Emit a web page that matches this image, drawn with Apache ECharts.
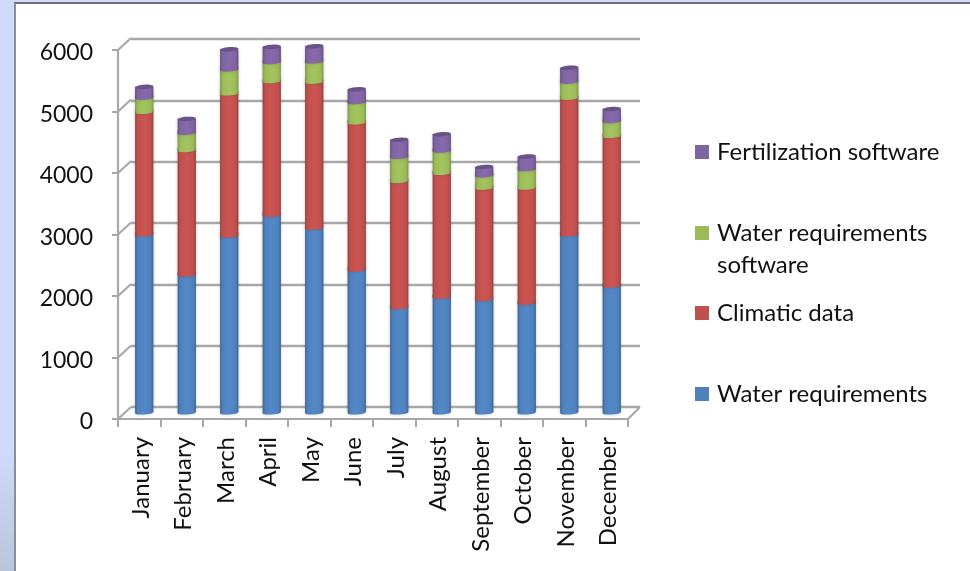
<!DOCTYPE html>
<html>
<head>
<meta charset="utf-8">
<style>
  html, body { margin: 0; padding: 0; width: 970px; height: 571px; overflow: hidden; background: #cfdbfb; }
  #side { position: absolute; left: 0; top: 0; width: 14px; height: 571px;
          background: linear-gradient(to bottom, #cfdbfb 0%, #cfdbfb 78%, #b8c6da 100%); }
  #sheet { position: absolute; left: 14px; top: 2px; width: 956px; height: 569px; box-sizing: border-box;
           background: #fff; border-left: 2px solid #8b8e96; border-top: 2px solid #6e6e72; }
  #chart { position: absolute; left: 0; top: 0; width: 970px; height: 571px; }
</style>
</head>
<body>
<div id="side"></div>
<div id="sheet"></div>
<div id="chart"></div>
<script src="https://cdn.jsdelivr.net/npm/echarts@6/dist/echarts.min.js"></script>
<script>
const months = ['January','February','March','April','May','June','July','August','September','October','November','December'];
const yTicks = [0, 1000, 2000, 3000, 4000, 5000, 6000];
const waterRequirements = [2890,2240,2870,3210,3000,2320,1710,1880,1840,1780,2890,2060];
const climaticData = [1990,2020,2310,2170,2370,2390,2050,2010,1810,1870,2220,2430];
const waterSoftware = [230,280,390,310,330,330,390,360,200,300,260,240];
const fertilizationSoftware = [210,260,360,280,280,240,310,300,170,240,260,230];

const FONT = 'Lato';
const WALL = '#a8a8a8';
const DEPTH_X = 13, DEPTH_Y = 12;
const BAR_RATIO = 0.43;

const stackDefs = [
  { name: 'Water requirements', values: waterRequirements, base: '#4f81bd', light: '#5388c8', dark: '#3a6496' },
  { name: 'Climatic data', values: climaticData, base: '#c0504d', light: '#cc5552', dark: '#96403d' },
  { name: 'Water requirements software', values: waterSoftware, base: '#9bbb59', light: '#a3c45e', dark: '#7c9647' },
  { name: 'Fertilization software', values: fertilizationSoftware, base: '#8064a2', light: '#8769ad', dark: '#654f80' }
];

// Cylinder gradient: dark rim, bright body
function cylinderFill(d) {
  return new echarts.graphic.LinearGradient(0, 0, 1, 0, [
    { offset: 0, color: d.dark },
    { offset: 0.14, color: d.base },
    { offset: 0.5, color: d.light },
    { offset: 0.86, color: d.base },
    { offset: 1, color: d.dark }
  ]);
}

// Points of the lower rim of a cylinder section, running right to left
function rimPoints(cx, halfW, y, sag, tilt) {
  const pts = [];
  for (let i = 12; i >= -12; i--) {
    const t = i / 12;
    pts.push([cx + t * halfW, y + sag * (Math.sqrt(1 - t * t) - 1) - t * tilt]);
  }
  return pts;
}

function capPoints(cx, halfW, y, ry, tilt) {
  const pts = [];
  for (let i = 0; i < 32; i++) {
    const a = i / 32 * Math.PI * 2;
    const c = Math.cos(a);
    pts.push([cx + c * halfW, y + Math.sin(a) * ry - c * tilt]);
  }
  return pts;
}

function stackSeries(def, idx) {
  let below = new Array(months.length).fill(0);
  for (let k = 0; k < idx; k++) below = below.map((v, i) => v + stackDefs[k].values[i]);
  const isTop = idx === stackDefs.length - 1;
  const fill = cylinderFill(def);
  return {
    type: 'custom',
    name: def.name,
    xAxisIndex: 2,
    yAxisIndex: 2,
    z: 5 + idx,
    clip: false,
    itemStyle: { color: def.base },
    encode: { x: 0, y: [1, 2] },
    data: def.values.map((v, i) => [i, below[i], below[i] + v]),
    renderItem(params, api) {
      const cat = api.value(0);
      const bot = api.coord([cat, api.value(1)]);
      const top = api.coord([cat, api.value(2)]);
      const halfW = api.size([1, 0])[0] * BAR_RATIO / 2;
      const cx = bot[0];
      const pts = [[cx - halfW, top[1] - (isTop ? 0 : 4)], [cx + halfW, top[1] - (isTop ? 0 : 4)]]
        .concat(rimPoints(cx, halfW, bot[1], 1.8, 0.6));
      const children = [{
        type: 'polygon',
        shape: { points: pts },
        style: { fill: fill, shadowBlur: 3, shadowColor: 'rgba(70,70,70,0.35)' }
      }];
      if (isTop) {
        children.push({
          type: 'polygon',
          shape: { points: capPoints(cx, halfW, top[1], 2.2, 0.6) },
          style: { fill: '#6a5188' }
        });
      }
      return { type: 'group', children };
    }
  };
}

// Diagonal edges joining the front axis to the back wall
const wallEdges = {
  type: 'custom',
  xAxisIndex: 1,
  yAxisIndex: 1,
  z: 1,
  clip: false,
  silent: true,
  data: yTicks.map(v => [0, v]),
  renderItem(params, api) {
    const y = api.coord([0, api.value(1)])[1];
    const x = params.coordSys.x;
    return { type: 'line', shape: { x1: x, y1: y, x2: x + DEPTH_X, y2: y - DEPTH_Y },
             style: { stroke: WALL, lineWidth: 2.2 } };
  }
};
const floorEdge = {
  type: 'custom',
  xAxisIndex: 1,
  yAxisIndex: 1,
  z: 1,
  clip: false,
  silent: true,
  data: [[0, 0]],
  renderItem(params, api) {
    const y = api.coord([0, 0])[1];
    const x = params.coordSys.x + params.coordSys.width;
    return { type: 'line', shape: { x1: x, y1: y, x2: x + DEPTH_X - 1, y2: y - DEPTH_Y },
             style: { stroke: WALL, lineWidth: 2.2 } };
  }
};

const valueAxisBase = { type: 'value', min: 0, max: 6000, interval: 1000 };
const catAxisBase = { type: 'category', data: months };

const legendTops = [140, 221, 301, 382];
const legendOrder = [3, 2, 1, 0];

const option = {
  animation: false,
  backgroundColor: 'transparent',
  textStyle: { fontFamily: FONT },
  grid: [
    { left: 131, top: 39, width: 509, height: 368 },   // back wall
    { left: 118, top: 50, width: 510, height: 369 },   // front axis plane
    { left: 123, top: 45, width: 510, height: 369.5 }, // plane the columns stand on
    { left: 120, top: 53, width: 510, height: 369 }    // tick label plane
  ],
  xAxis: [
    Object.assign({}, catAxisBase, { gridIndex: 0, show: false }),
    Object.assign({}, catAxisBase, {
      gridIndex: 1,
      axisLine: { show: true, lineStyle: { color: WALL, width: 2.2 } },
      axisTick: { show: true, interval: 0, length: 8, lineStyle: { color: WALL, width: 2 } },
      axisLabel: { show: false }
    }),
    Object.assign({}, catAxisBase, { gridIndex: 2, show: false }),
    Object.assign({}, catAxisBase, {
      gridIndex: 3,
      axisLine: { show: false },
      axisTick: { show: false },
      axisLabel: { interval: 0, rotate: 90, margin: 15, fontFamily: FONT, fontSize: 24, color: '#111' }
    })
  ],
  yAxis: [
    Object.assign({}, valueAxisBase, {
      gridIndex: 0,
      axisLine: { show: false }, axisTick: { show: false }, axisLabel: { show: false },
      splitLine: { show: true, lineStyle: { color: WALL, width: 2.4 } }
    }),
    Object.assign({}, valueAxisBase, {
      gridIndex: 1,
      axisLine: { show: true, lineStyle: { color: WALL, width: 2.2 } },
      axisTick: { show: true, length: 6, lineStyle: { color: WALL, width: 2 } },
      axisLabel: { show: false },
      splitLine: { show: false }
    }),
    Object.assign({}, valueAxisBase, { gridIndex: 2, show: false, splitLine: { show: false } }),
    Object.assign({}, valueAxisBase, {
      gridIndex: 3,
      axisLine: { show: false },
      axisTick: { show: false },
      axisLabel: { margin: 27, fontFamily: FONT, fontSize: 23, color: '#111', formatter: v => String(v) },
      splitLine: { show: false }
    })
  ],
  legend: legendOrder.map((k, i) => ({
    orient: 'vertical',
    left: 695,
    top: legendTops[i],
    itemWidth: 14,
    itemHeight: 14,
    itemGap: 0,
    padding: 0,
    selectedMode: false,
    icon: 'rect',
    data: [stackDefs[k].name],
    formatter: n => k === 2 ? '{t|Water requirements}\n{t|software}' : n,
    textStyle: Object.assign(
      { fontFamily: FONT, fontSize: 24, color: '#111', padding: [0, 0, 0, 3] },
      k === 2 ? {
        padding: [32, 0, 0, 3],
        rich: { t: { fontFamily: FONT, fontSize: 24, color: '#111', lineHeight: 32 } }
      } : {}
    )
  })),
  series: [wallEdges, floorEdge].concat(stackDefs.map(stackSeries))
};

const chart = echarts.init(document.getElementById('chart'), null, { renderer: 'canvas' });
chart.setOption(option);
</script>
</body>
</html>
